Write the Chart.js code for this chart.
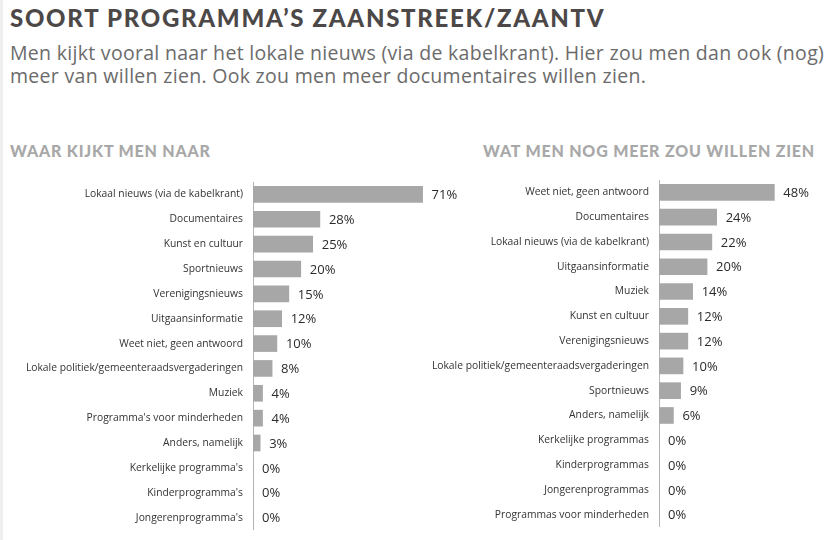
<!DOCTYPE html>
<html>
<head>
<meta charset="utf-8">
<script src="https://cdn.jsdelivr.net/npm/chart.js@4"></script>
<style>
    body { margin: 0; width: 834px; height: 540px; background: #fff; overflow: hidden; position: relative; box-shadow: inset 3px 0 0 #eeeeee; }
    h1 { position: absolute; left: 10px; top: 3px; margin: 0; font: 900 24px Lato, sans-serif; color: #4d4848; letter-spacing: 1.7px; white-space: nowrap; }
    .sub { position: absolute; left: 10px; top: 41px; margin: 0; font: 19.5px "Open Sans", sans-serif; line-height: 23px; color: #6b6b6b; letter-spacing: 0.3px; white-space: nowrap; }
    h2 { position: absolute; top: 141px; margin: 0; font: 900 16px Lato, sans-serif; color: #a8a8a8; letter-spacing: 0.8px; white-space: nowrap; }
    canvas { position: absolute; }
</style>
</head>
<body>
<h1>SOORT PROGRAMMA’S ZAANSTREEK/ZAANTV</h1>
<p class="sub">Men kijkt vooral naar het lokale nieuws (via de kabelkrant). Hier zou men dan ook (nog)<br>meer van willen zien. Ook zou men meer documentaires willen zien.</p>
<h2 style="left: 10px;">WAAR KIJKT MEN NAAR</h2>
<h2 style="left: 483px;">WAT MEN NOG MEER ZOU WILLEN ZIEN</h2>
<canvas id="leftChart" width="468" height="348" style="left: 0; top: 182px;"></canvas>
<canvas id="rightChart" width="412" height="347" style="left: 420px; top: 180px;"></canvas>
<script>
// Waar kijkt men naar (%)
const leftLabels = [
    'Lokaal nieuws (via de kabelkrant)', 'Documentaires', 'Kunst en cultuur', 'Sportnieuws',
    'Verenigingsnieuws', 'Uitgaansinformatie', 'Weet niet, geen antwoord',
    'Lokale politiek/gemeenteraadsvergaderingen', 'Muziek', "Programma's voor minderheden",
    'Anders, namelijk', "Kerkelijke programma's", "Kinderprogramma's", "Jongerenprogramma's"
];
const leftValues = [71, 28, 25, 20, 15, 12, 10, 8, 4, 4, 3, 0, 0, 0];

// Wat men nog meer zou willen zien (%)
const rightLabels = [
    'Weet niet, geen antwoord', 'Documentaires', 'Lokaal nieuws (via de kabelkrant)',
    'Uitgaansinformatie', 'Muziek', 'Kunst en cultuur', 'Verenigingsnieuws',
    'Lokale politiek/gemeenteraadsvergaderingen', 'Sportnieuws', 'Anders, namelijk',
    'Kerkelijke programmas', 'Kinderprogrammas', 'Jongerenprogrammas', 'Programmas voor minderheden'
];
const rightValues = [48, 24, 22, 20, 14, 12, 12, 10, 9, 6, 0, 0, 0, 0];

// Draw "xx%" right of each bar
const valueLabels = {
    id: 'valueLabels',
    afterDatasetsDraw(chart) {
        const ctx = chart.ctx;
        const meta = chart.getDatasetMeta(0);
        ctx.save();
        ctx.font = '13px "Open Sans", sans-serif';
        ctx.fillStyle = '#2b2b2b';
        ctx.textBaseline = 'middle';
        ctx.textAlign = 'left';
        meta.data.forEach((bar, i) => {
            ctx.fillText(chart.data.datasets[0].data[i] + '%', bar.x + 9, bar.y + 1);
        });
        ctx.restore();
    }
};

function makeChart(id, labels, values, axisWidth, maxValue) {
    const ctx = document.getElementById(id).getContext('2d');
    return new Chart(ctx, {
        type: 'bar',
        data: {
            labels: labels,
            datasets: [{
                data: values,
                backgroundColor: '#a7a7a7',
                barThickness: 16,
            }],
        },
        options: {
            indexAxis: 'y',
            responsive: false,
            animation: false,
            layout: { padding: 0 },
            plugins: { legend: { display: false }, tooltip: { enabled: false } },
            scales: {
                x: { display: false, min: 0, max: maxValue },
                y: {
                    grid: { display: false, drawTicks: false },
                    border: { display: true, color: '#b5b5b5', width: 1 },
                    ticks: { color: '#333', padding: 10, font: { family: 'Open Sans', size: 10.3 } },
                    afterFit: (scale) => {
                        scale.width = axisWidth;
                        scale.paddingTop = 0;
                        scale.paddingBottom = 0;
                    },
                },
            },
        },
        plugins: [valueLabels],
    });
}

makeChart('leftChart', leftLabels, leftValues, 253, 90);
makeChart('rightChart', rightLabels, rightValues, 239, 72);
</script>
</body>
</html>
